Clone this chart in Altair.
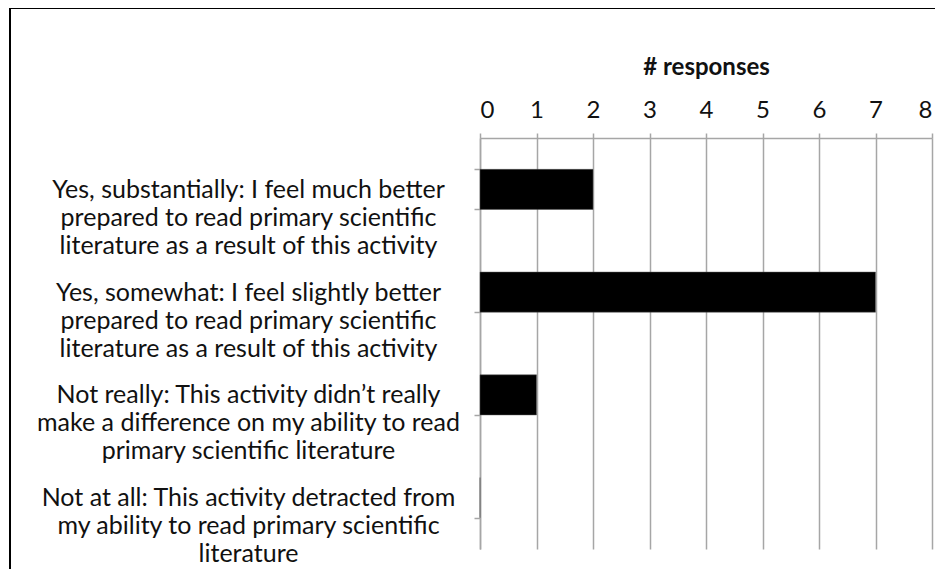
import altair as alt
import pandas as pd

categories = [
    "Yes, substantially: I feel much better\nprepared to read primary scientific\nliterature as a result of this activity",
    "Yes, somewhat: I feel slightly better\nprepared to read primary scientific\nliterature as a result of this activity",
    "Not really: This activity didn\u2019t really\nmake a difference on my ability to read\nprimary scientific literature",
    "Not at all: This activity detracted from\nmy ability to read primary scientific\nliterature",
]
responses = [2, 7, 1, 0]
x_ticks = [0, 1, 2, 3, 4, 5, 6, 7, 8]

df = pd.DataFrame({"cat": categories, "n": responses})

FONT = "Lato"
GRID = "#a6a6a6"

bars = alt.Chart(df).mark_bar(color="black", stroke="#555555", strokeWidth=0.5).encode(
    y=alt.Y(
        "cat:N",
        sort=categories,
        scale=alt.Scale(paddingInner=0.61, paddingOuter=0.305),
        axis=alt.Axis(
            title=None,
            orient="left",
            labelExpr="split(datum.label, '\\n')",
            labelAlign="center",
            labelBaseline="middle",
            labelPadding=226,
            labelLineHeight=28,
            labelFont=FONT,
            labelFontSize=25,
            labelColor="#111111",
            labelLimit=0,
            tickBand="extent",
            tickSize=6,
            tickColor=GRID,
            tickWidth=1.5,
            domainColor=GRID,
            domainWidth=1.5,
            grid=False,
        ),
    ),
    x=alt.X(
        "n:Q",
        scale=alt.Scale(domain=[0, 8], nice=False),
        axis=alt.Axis(
            title="# responses",
            orient="top",
            values=x_ticks,
            format="d",
            labelFont=FONT,
            labelFontSize=24,
            labelColor="#111111",
            labelBaseline="alphabetic",
            labelPadding=16,
            tickSize=5,
            tickColor=GRID,
            tickWidth=1.5,
            domainColor=GRID,
            domainWidth=1.5,
            grid=True,
            gridColor=GRID,
            gridWidth=1.5,
            titleFont=FONT,
            titleFontSize=24,
            titleFontWeight="bold",
            titleColor="#111111",
            titleBaseline="alphabetic",
            titleY=-64,
        ),
    ),
)

frame_top = alt.Chart(df).mark_rule(color="black", strokeWidth=2).encode(
    x=alt.value(-470), x2=alt.value(463), y=alt.value(-130)
)
frame_left = alt.Chart(df).mark_rule(color="black", strokeWidth=2).encode(
    x=alt.value(-470), y=alt.value(-130), y2=alt.value(431)
)

chart = (
    alt.layer(bars, frame_top, frame_left)
    .properties(
        width=452,
        height=411,
        autosize=alt.AutoSizeParams(type="none"),
        padding={"left": 472, "top": 130, "right": 3, "bottom": 20},
        background="white",
    )
    .configure_view(stroke=None)
)

chart.save("out.html", embed_options={"renderer": "svg", "actions": False})
